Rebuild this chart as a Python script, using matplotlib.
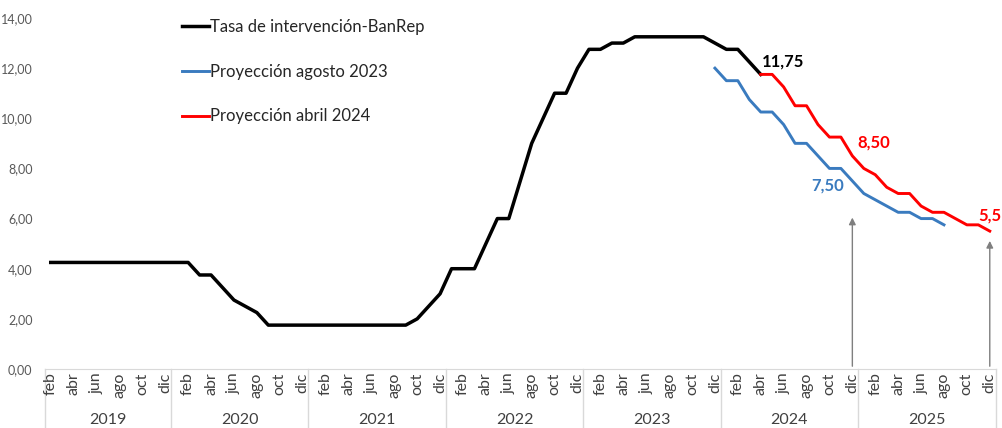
import matplotlib
matplotlib.use('Agg')
import matplotlib.pyplot as plt
import matplotlib.transforms as mtransforms

plt.rcParams['font.family'] = ['Lato', 'DejaVu Sans']

# categories: feb 2019 .. dic 2025
years = [2019, 2020, 2021, 2022, 2023, 2024, 2025]
month_names = ['ene', 'feb', 'mar', 'abr', 'may', 'jun', 'jul', 'ago', 'sep', 'oct', 'nov', 'dic']

# Tasa de intervencion BanRep, feb 2019 .. abr 2024
tasa = [4.25] * 11 + \
    [4.25, 4.25, 3.75, 3.75, 3.25, 2.75, 2.50, 2.25, 1.75, 1.75, 1.75, 1.75] + \
    [1.75] * 9 + [2.00, 2.50, 3.00] + \
    [4.00, 4.00, 4.00, 5.00, 6.00, 6.00, 7.50, 9.00, 10.00, 11.00, 11.00, 12.00] + \
    [12.75, 12.75, 13.00, 13.00] + [13.25] * 7 + [13.00] + \
    [12.75, 12.75, 12.25, 11.75]

# Proyeccion agosto 2023, dic 2023 .. ago 2025
proy_ago23 = [12.00, 11.50, 11.50, 10.75, 10.25, 10.25, 9.75, 9.00, 9.00, 8.50, 8.00, 8.00,
              7.50, 7.00, 6.75, 6.50, 6.25, 6.25, 6.00, 6.00, 5.75]

# Proyeccion abril 2024, abr 2024 .. dic 2025
proy_abr24 = [11.75, 11.75, 11.25, 10.50, 10.50, 9.75, 9.25, 9.25, 8.50,
              8.00, 7.75, 7.25, 7.00, 7.00, 6.50, 6.25, 6.25, 6.00, 5.75, 5.75, 5.50]

# build category list
cats = []
for y in years:
    for m in range(12):
        if y == 2019 and m == 0:
            continue
        cats.append((y, m))
n = len(cats)

x_tasa = list(range(len(tasa)))
start_ago = cats.index((2023, 11))
x_ago = list(range(start_ago, start_ago + len(proy_ago23)))
start_abr = cats.index((2024, 3))
x_abr = list(range(start_abr, start_abr + len(proy_abr24)))

fig = plt.figure(figsize=(10.02, 4.28), dpi=100)
ax = fig.add_axes([45 / 1002, 59 / 428, 950.5 / 1002, 351 / 428])

ax.plot(x_tasa, tasa, color='black', lw=2.5, label='Tasa de intervención-BanRep', solid_joinstyle='round')
ax.plot(x_ago, proy_ago23, color='#3A7BBF', lw=2.1, label='Proyección agosto 2023', solid_joinstyle='round')
ax.plot(x_abr, proy_abr24, color='#FF0000', lw=2.1, label='Proyección abril 2024', solid_joinstyle='round')

ax.set_xlim(-0.5, n - 0.5)
ax.set_ylim(0, 14)
ax.set_yticks(range(0, 15, 2))
ax.set_yticklabels(['{:.2f}'.format(v).replace('.', ',') for v in range(0, 15, 2)],
                   fontsize=9, color='#595959')
ax.tick_params(axis='y', length=0, pad=9)
ax.set_xticks([])
for s in ['top', 'right', 'left']:
    ax.spines[s].set_visible(False)
ax.spines['bottom'].set_color('#D9D9D9')

# month and year labels
trans = mtransforms.blended_transform_factory(ax.transData, ax.transAxes)
for i, (y, m) in enumerate(cats):
    if m % 2 == 1:
        ax.text(i, -0.01, month_names[m], transform=trans, rotation=90,
                ha='center', va='top', fontsize=11.5, color='#404040')
bounds = [-0.5]
for y in years:
    idx = [i for i, c in enumerate(cats) if c[0] == y]
    ax.text((idx[0] + idx[-1]) / 2, -0.145, str(y), transform=trans,
            ha='center', va='center', fontsize=11.5, color='#404040')
    bounds.append(idx[-1] + 0.5)
for b in bounds:
    ax.plot([b, b], [0, -0.2], transform=trans, color='#D9D9D9', lw=1, clip_on=False)

# value labels
ax.text(62.1, 12.25, '11,75', fontsize=12, fontweight='bold', color='black', va='center')
ax.text(70.4, 9.05, '8,50', fontsize=12, fontweight='bold', color='#FF0000', va='center')
ax.text(66.4, 7.3, '7,50', fontsize=12, fontweight='bold', color='#3A7BBF', va='center')
ax.text(81.0, 6.14, '5,5', fontsize=12, fontweight='bold', color='#FF0000', va='center', clip_on=False)

# arrows
arrow = dict(arrowstyle='-|>', color='#7F7F7F', lw=1, mutation_scale=10)
ax.annotate('', xy=(cats.index((2024, 11)), 6.15), xytext=(cats.index((2024, 11)), 0), arrowprops=arrow)
ax.annotate('', xy=(cats.index((2025, 11)), 5.22), xytext=(cats.index((2025, 11)), 0), arrowprops=arrow)

ax.legend(loc='upper left', bbox_to_anchor=(182 / 1002, 1 - 19 / 428), bbox_transform=fig.transFigure,
          frameon=False, fontsize=12, handlelength=1.6, handletextpad=0.1, labelspacing=1.72,
          borderpad=0, borderaxespad=0, labelcolor='#262626')

fig.savefig('out.png', dpi=100)
